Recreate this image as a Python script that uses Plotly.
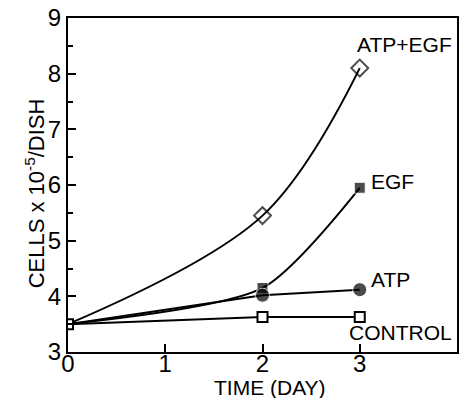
import plotly.graph_objects as go

days = [0, 2, 3]
atp_egf = [3.5, 5.45, 8.1]
egf = [3.5, 4.15, 5.95]
atp = [3.5, 4.02, 4.12]
control = [3.5, 3.63, 3.63]

x_ticks = [0, 1, 2, 3, 4]
y_ticks = [3, 4, 5, 6, 7, 8, 9]

labels = ["ATP+EGF", "EGF", "ATP", "CONTROL"]
label_x = [3.97, 3.1, 3.1, 3.97]
label_y = [8.52, 6.06, 4.3, 3.35]
label_anchor = ["right", "left", "left", "right"]

FONT = "Liberation Sans, Arial, sans-serif"
fig = go.Figure()

fig.add_trace(go.Scatter(x=days, y=atp_egf, mode="lines+markers",
    line=dict(color="black", width=2, shape="spline", smoothing=1.0),
    marker=dict(symbol="diamond-open", size=[0, 13, 13], color="black", line=dict(width=2))))
fig.add_trace(go.Scatter(x=days, y=egf, mode="lines+markers",
    line=dict(color="black", width=2, shape="spline", smoothing=0.7),
    marker=dict(symbol="square", size=[0, 11, 11], color="black")))
fig.add_trace(go.Scatter(x=days, y=atp, mode="lines+markers",
    line=dict(color="black", width=2),
    marker=dict(symbol="circle", size=[0, 14, 14], color="black")))
fig.add_trace(go.Scatter(x=days, y=control, mode="lines+markers",
    line=dict(color="black", width=2),
    marker=dict(symbol="square", size=10, color="white", line=dict(color="black", width=2))))

for t, xx, yy, anc in zip(labels, label_x, label_y, label_anchor):
    fig.add_annotation(x=xx, y=yy, text=t, showarrow=False, xanchor=anc,
                       font=dict(family=FONT, size=21, color="black"))

# axis titles
fig.add_annotation(xref="paper", yref="paper", x=0.52, y=0, yshift=-35,
                   xanchor="center", yanchor="middle", showarrow=False,
                   text="TIME (DAY)", font=dict(family=FONT, size=21, color="black"))
fig.add_annotation(xref="paper", yref="paper", x=0, y=0.475, xshift=-33,
                   xanchor="center", yanchor="middle", showarrow=False, textangle=-90,
                   text="CELLS x 10<sup>-5</sup>/DISH", font=dict(family=FONT, size=22, color="black"))

fig.update_layout(
    width=459, height=398,
    margin=dict(l=68, r=2, t=18, b=46, autoexpand=False),
    paper_bgcolor="white", plot_bgcolor="white",
    showlegend=False,
    font=dict(family=FONT, color="black"),
)
fig.update_xaxes(range=[0, 4], tickvals=x_ticks, ticktext=[str(v) for v in x_ticks],
    ticks="inside", ticklen=8, tickwidth=2, tickcolor="black",
    showline=True, linecolor="black", linewidth=2, mirror=True,
    showgrid=False, zeroline=False, ticklabelstandoff=-11,
    tickfont=dict(size=24, family=FONT))
fig.update_yaxes(range=[3, 9], tickvals=y_ticks, ticktext=[str(v) for v in y_ticks],
    ticks="inside", ticklen=8, tickwidth=2, tickcolor="black",
    minor=dict(dtick=0.5, ticks="inside", ticklen=5, tickwidth=2, tickcolor="black", showgrid=False),
    showline=True, linecolor="black", linewidth=2, mirror=True,
    showgrid=False, zeroline=False,
    tickfont=dict(size=24, family=FONT))

fig.write_html("out.html", config={"displayModeBar": False},
               post_script="document.body.style.margin='0';")
